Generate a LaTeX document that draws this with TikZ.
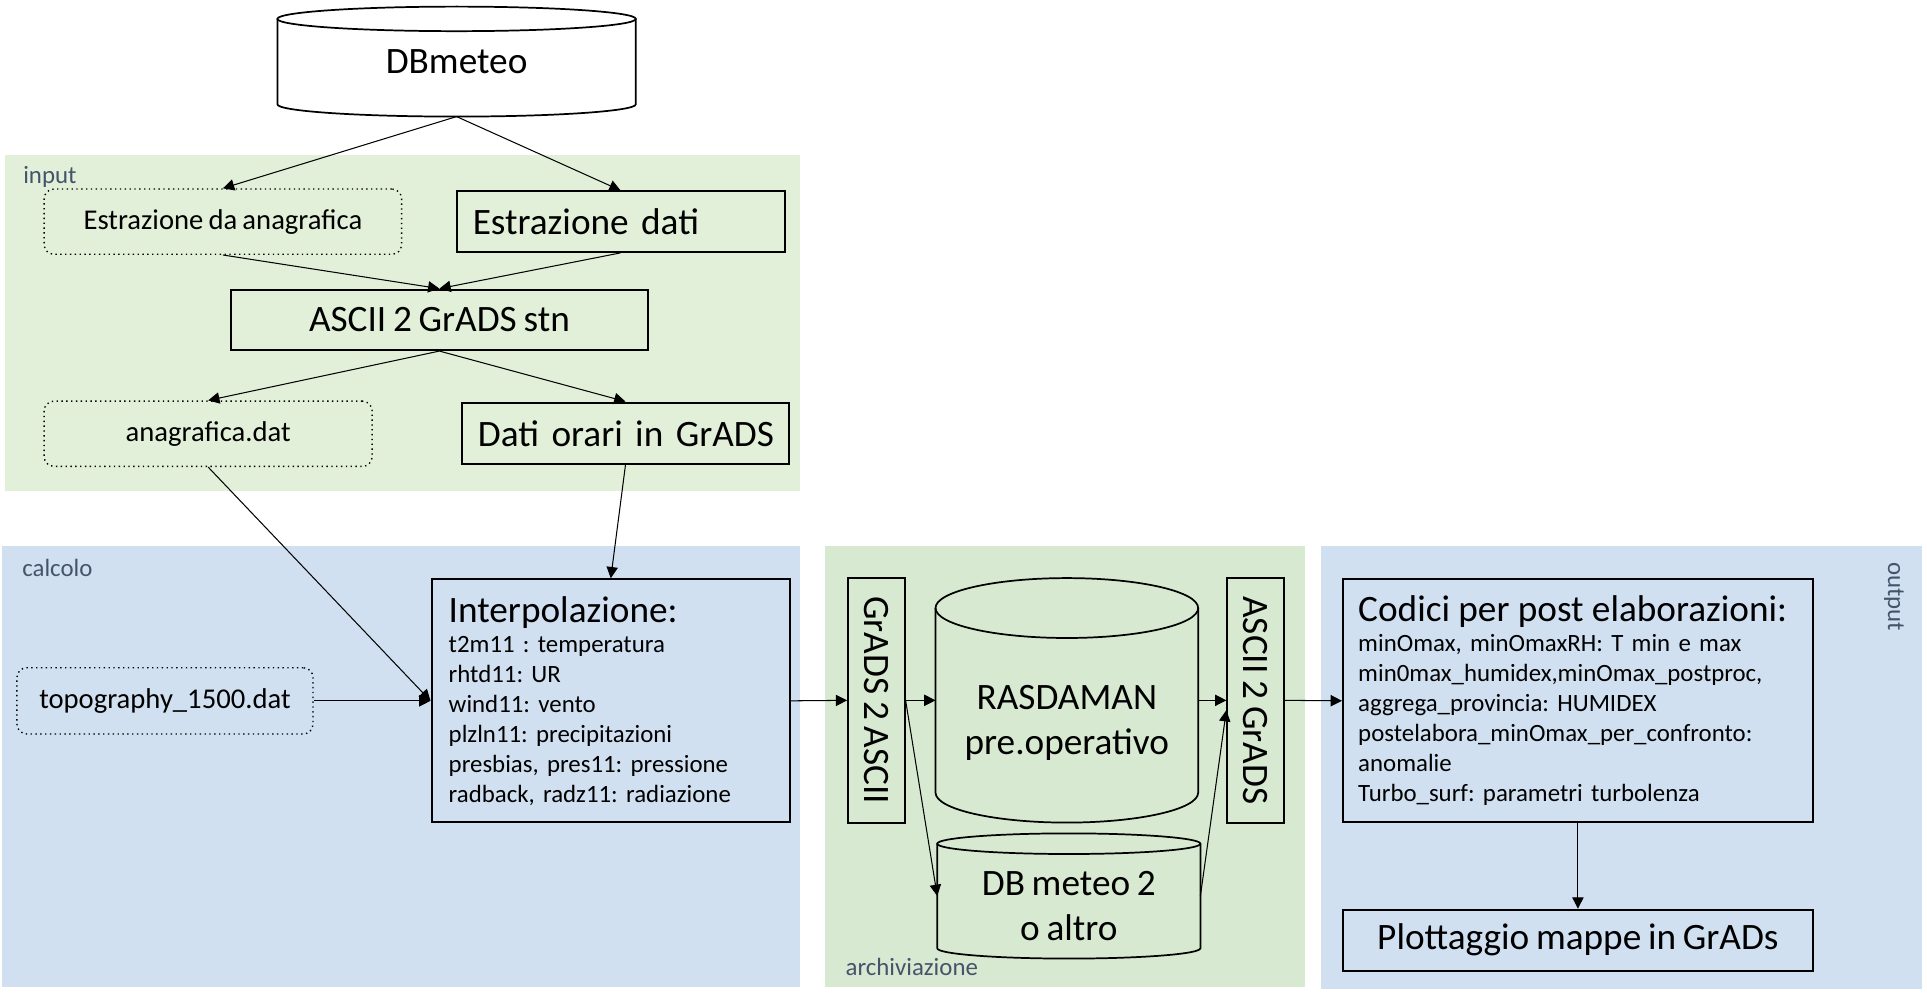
\documentclass[tikz,border=0pt]{standalone}
\usepackage{fontspec}
\setmainfont{Carlito}[WordSpace=0.8]
\usetikzlibrary{arrows.meta}
\definecolor{inputgreen}{RGB}{226,240,217}
\definecolor{archgreen}{RGB}{216,233,209}
\definecolor{calcblue}{RGB}{208,224,241}
\definecolor{taggray}{RGB}{68,84,106}
\frenchspacing

\begin{document}
\begin{tikzpicture}[
        box/.style={draw, line width=1.2pt, inner sep=0pt},
        lbox/.style={box, align=left, inner xsep=0.33cm},
        dotbox/.style={draw, line width=0.8pt, dotted, rounded corners=2mm, inner sep=0pt},
        cylbox/.style={inner sep=0pt, outer sep=0pt},
        cylline/.style={line width=1pt},
        tag/.style={text=taggray, font=\fontsize{14.4}{17}\selectfont},
        big/.style={font=\fontsize{21.6}{26}\selectfont},
        mid/.style={font=\fontsize{16.6}{20}\selectfont},
        list/.style={font=\fontsize{14.4}{17.4}\selectfont, align=left},
        arr/.style={-{Triangle[length=2.3mm,width=2.3mm]}, line width=0.6pt}
    ]
        \useasboundingbox (0,0) rectangle (39.25,20.325);
        \fill[inputgreen] (0.1,10.325) rectangle (16.3,17.175);
        \fill[calcblue] (0.05,0.225) rectangle (16.3,9.2);
        \fill[archgreen] (16.8,0.225) rectangle (26.575,9.2);
        \fill[calcblue] (26.9,0.175) rectangle (39.15,9.2);
        \node[tag, anchor=west] (tinput) at (0.35,16.73) {input};
        \node[tag, anchor=west] (tcalcolo) at (0.33,8.75) {calcolo};
        \node[tag, anchor=west] (tarch) at (17.1,0.625) {archiviazione};
        \node[tag, rotate=-90] (toutput) at (38.575,8.175) {output};

        \node[cylbox, big, minimum width=7.3cm, minimum height=2.24cm] (dbmeteo) at (9.3,19.07) {DBmeteo};
        \draw[cylline] ([yshift=-0.25cm]dbmeteo.north) ellipse [x radius=3.65cm, y radius=0.25cm];
        \draw[cylline] ([yshift=-0.25cm]dbmeteo.north west) -- ([yshift=0.25cm]dbmeteo.south west)
            arc[start angle=180, end angle=360, x radius=3.65cm, y radius=0.25cm] -- ([yshift=-0.25cm]dbmeteo.north east);

        \node[dotbox, mid, minimum width=7.28cm, minimum height=1.33cm] (estrana) at (4.54,15.81) {Estrazione da anagrafica};
        \node[lbox, big, text width=6.02cm, minimum height=1.23cm] (estrdati) at (12.64,15.81) {\mbox{Estrazione dati}};
        \node[box, big, minimum width=8.5cm, minimum height=1.23cm] (stn) at (8.95,13.81) {ASCII 2 GrADS stn};
        \node[dotbox, mid, minimum width=6.68cm, minimum height=1.33cm] (anadat) at (4.24,11.49) {anagrafica.dat};
        \node[lbox, big, text width=6.01cm, minimum height=1.25cm] (datior) at (12.74,11.5) {\mbox{Dati orari in GrADS}};

        \node[dotbox, mid, minimum width=6.03cm, minimum height=1.35cm] (topo) at (3.36,6.05) {topography\_1500.dat};
        \node[box, list, text width=6.6cm, inner xsep=0.35cm, minimum height=4.95cm] (interp) at (12.44,6.05) {{\fontsize{21.6}{17.4}\selectfont Interpolazione:}\\
            t2m11 : temperatura\\
            rhtd11: UR\\
            wind11: vento\\
            plzln11: precipitazioni\\
            presbias, pres11: pressione\\
            radback, radz11: radiazione};

        \node[box, big, minimum width=1.15cm, minimum height=4.98cm] (g2a) at (17.85,6.06) {\rotatebox{-90}{GrADS 2 ASCII}};
        \node[cylbox, big, minimum width=5.35cm, minimum height=4.98cm] (ras) at (21.73,6.06)
            {\raisebox{-0.64cm}[0pt][0pt]{\begin{tabular}{@{}c@{}}RASDAMAN\\pre.operativo\end{tabular}}};
        \draw[cylline] ([yshift=-0.61cm]ras.north) ellipse [x radius=2.675cm, y radius=0.61cm];
        \draw[cylline] ([yshift=-0.61cm]ras.north west) -- ([yshift=0.61cm]ras.south west)
            arc[start angle=180, end angle=360, x radius=2.675cm, y radius=0.61cm] -- ([yshift=-0.61cm]ras.north east);
        \node[cylbox, big, minimum width=5.36cm, minimum height=2.55cm] (db2) at (21.77,2.075)
            {\raisebox{-0.44cm}[0pt][0pt]{\begin{tabular}{@{}c@{}}DB meteo 2\\o altro\end{tabular}}};
        \draw[cylline] ([yshift=-0.21cm]db2.north) ellipse [x radius=2.68cm, y radius=0.21cm];
        \draw[cylline] ([yshift=-0.21cm]db2.north west) -- ([yshift=0.21cm]db2.south west)
            arc[start angle=180, end angle=360, x radius=2.68cm, y radius=0.21cm] -- ([yshift=-0.21cm]db2.north east);
        \node[box, big, minimum width=1.15cm, minimum height=4.98cm] (a2g) at (25.575,6.06) {\rotatebox{-90}{ASCII 2 GrADS}};

        \node[box, list, text width=8.95cm, inner xsep=0.31cm, minimum height=4.95cm] (cod) at (32.14,6.05) {{\fontsize{21.6}{17.4}\selectfont Codici per post elaborazioni:}\\
            minOmax, minOmaxRH: T min e max\\
            min0max\_humidex,minOmax\_postproc,\\
            aggrega\_provincia: HUMIDEX\\
            postelabora\_minOmax\_per\_confronto:\\
            anomalie\\
            Turbo\_surf: parametri turbolenza};
        \node[box, big, minimum width=9.58cm, minimum height=1.24cm] (plot) at (32.14,1.175) {Plottaggio mappe in GrADs};

        \draw[arr] (dbmeteo.south) -- (estrana.north);
        \draw[arr] (dbmeteo.south) -- (estrdati.north);
        \draw[arr] (estrana.south) -- (stn.north);
        \draw[arr] (estrdati.south) -- (stn.north);
        \draw[arr] (stn.south) -- (anadat.north);
        \draw[arr] (stn.south) -- (datior.north);
        \draw[arr] (anadat.south) -- (interp.west);
        \draw[arr] (datior.south) -- (interp.north);
        \draw[arr] (topo.east) -- (interp.west);
        \draw[arr] (interp.east) -- (g2a.west);
        \draw[arr] (g2a.east) -- (ras.west);
        \draw[arr] (g2a.east) -- (db2.west);
        \draw[arr] (ras.east) -- (a2g.west);
        \draw[arr] (db2.east) -- ([yshift=-2mm]a2g.west);
        \draw[arr] (a2g.east) -- (cod.west);
        \draw[arr] (cod.south) -- (plot.north);
    \end{tikzpicture}
\end{document}
